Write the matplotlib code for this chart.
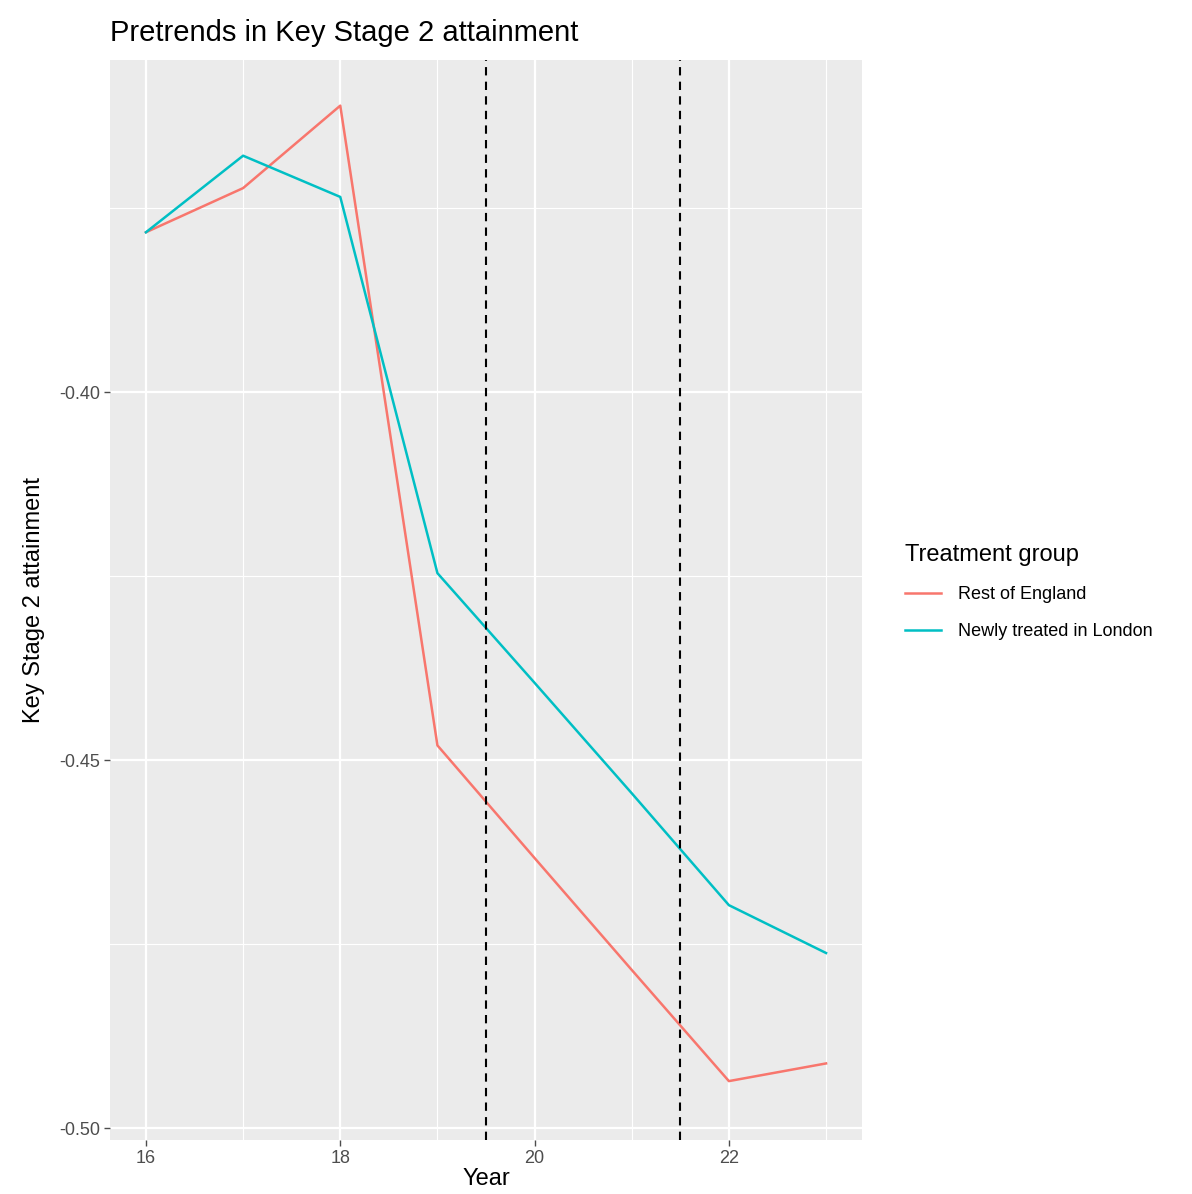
import matplotlib
matplotlib.use("Agg")
import matplotlib.pyplot as plt
from matplotlib.lines import Line2D

years = [16, 17, 18, 19, 20, 21, 22, 23]
rest_of_england = [-0.3783, -0.3723, -0.3611, -0.4480, -0.4633, -0.4785, -0.4936, -0.4912]
newly_treated_london = [-0.3783, -0.3679, -0.3735, -0.4246, -0.4395, -0.4545, -0.4697, -0.4762]
series_names = ["Rest of England", "Newly treated in London"]
series_colors = ["#F8766D", "#00BFC4"]
vlines = [19.5, 21.5]
x_ticks = [16, 18, 20, 22]
y_ticks = [-0.50, -0.45, -0.40]
y_tick_labels = ["-0.50", "-0.45", "-0.40"]

plt.rcParams['font.family'] = ['Liberation Sans', 'DejaVu Sans']

fig = plt.figure(figsize=(11.92, 11.94), dpi=100)
ax = fig.add_axes([110/1192, 1 - 1140/1194, (862-110)/1192, (1140-60)/1194])
ax.set_facecolor("#EBEBEB")

ax.set_xlim(15.63, 23.37)
ax.set_ylim(-0.5016, -0.3549)

# grid
for x in [17, 19, 21, 23]:
    ax.axvline(x, color="white", lw=0.8, zorder=0)
for y in [-0.475, -0.425, -0.375]:
    ax.axhline(y, color="white", lw=0.8, zorder=0)
for x in x_ticks:
    ax.axvline(x, color="white", lw=1.6, zorder=0)
for y in y_ticks:
    ax.axhline(y, color="white", lw=1.6, zorder=0)

for vals, name, c in zip([rest_of_england, newly_treated_london], series_names, series_colors):
    ax.plot(years, vals, color=c, lw=1.8, label=name, zorder=3)

for v in vlines:
    ax.axvline(v, color="black", lw=1.5, ls=(0, (4, 3)), zorder=4)

ax.set_xticks(x_ticks)
ax.set_xticklabels([str(x) for x in x_ticks])
ax.set_yticks(y_ticks)
ax.set_yticklabels(y_tick_labels)
ax.tick_params(axis="both", colors="#4D4D4D", labelsize=13, length=4, width=1, pad=3)
for lab in ax.get_xticklabels() + ax.get_yticklabels():
    lab.set_color("#4D4D4D")
for s in ax.spines.values():
    s.set_visible(False)

ax.set_xlabel("Year", fontsize=17, color="black", labelpad=1)
ax.set_ylabel("Key Stage 2 attainment", fontsize=17, color="black", labelpad=10)
ax.set_title("Pretrends in Key Stage 2 attainment", fontsize=21, loc="left", x=0.0, pad=14, color="black")

handles = [Line2D([0], [0], color=c, lw=1.8) for c in series_colors]
leg = fig.legend(handles, series_names, title="Treatment group", loc="upper left",
                 bbox_to_anchor=(889/1192, 1 - 528/1194), frameon=False,
                 fontsize=13, title_fontsize=17, handlelength=2.0, labelspacing=1.1,
                 handletextpad=0.9, alignment="left")

fig.savefig("out.png", dpi=100, facecolor="white")
